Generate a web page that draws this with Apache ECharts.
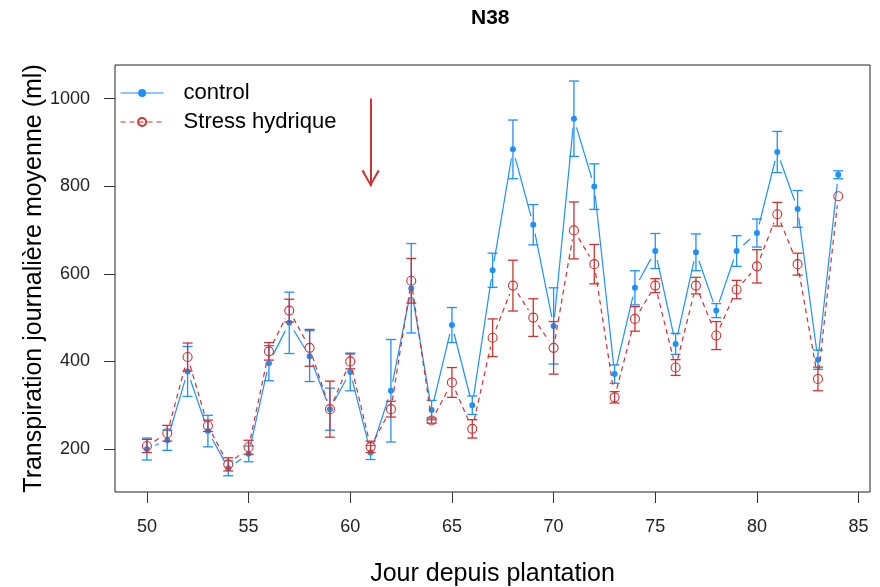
<!DOCTYPE html>
<html>
<head>
<meta charset="utf-8">
<script src="https://cdn.jsdelivr.net/npm/echarts@6/dist/echarts.min.js"></script>
<style>html,body{margin:0;padding:0;background:#fff;}#c{width:880px;height:587px;}</style>
</head>
<body>
<div id="c"></div>
<script>
const days = [50,51,52,53,54,55,56,57,58,59,60,61,62,63,64,65,66,67,68,69,70,71,72,73,74,75,76,77,78,79,80,81,82,83,84];
const controlMean = [200,220,377,241,156,189,396,488,412,291,376,192,333,567,289,483,300,608,884,712,481,954,799,371,568,652,440,649,516,652,693,878,748,404,826];
const controlSE   = [25,23,57,36,17,18,40,70,58,48,43,16,117,102,22,40,21,39,67,46,87,86,52,21,39,40,24,42,16,35,32,47,42,22,9];
const stressMean  = [207,236,410,253,165,204,423,516,431,291,400,205,291,584,265,352,246,454,573,500,431,699,622,318,497,573,386,573,459,564,617,736,622,360,777];
const stressSE    = [15,18,32,13,15,16,20,26,42,64,17,13,18,51,6,34,21,43,58,43,60,65,45,13,28,16,18,19,32,21,38,27,25,27,0];
const xTicks = [50,55,60,65,70,75,80,85];
const yTicks = [200,400,600,800,1000];
const arrowDay = 61, arrowFrom = 1000, arrowTo = 800;

const BLUE = '#1E90FF', RED = '#CD3333';
const FONT = '"Liberation Sans", Arial, sans-serif';

function segData(means){
  const out = [];
  for (let i = 0; i < days.length - 1; i++) out.push([days[i], means[i], days[i+1], means[i+1]]);
  return out;
}
function barData(means, se){
  return days.map((d,i)=>[d, means[i]-se[i], means[i]+se[i]]);
}
function gapLine(color, dash){
  return function(params, api){
    const p1 = api.coord([api.value(0), api.value(1)]);
    const p2 = api.coord([api.value(2), api.value(3)]);
    const dx = p2[0]-p1[0], dy = p2[1]-p1[1];
    const L = Math.hypot(dx, dy), g = 9;
    if (L <= 2*g) return null;
    const ux = dx/L, uy = dy/L;
    return {type:'line', shape:{x1:p1[0]+ux*g, y1:p1[1]+uy*g, x2:p2[0]-ux*g, y2:p2[1]-uy*g},
      style:{stroke:color, lineWidth:1.2, lineDash:dash, fill:null}};
  };
}
function errBar(color){
  return function(params, api){
    const x = api.value(0), lo = api.value(1), hi = api.value(2);
    if (hi - lo <= 0) return null;
    const a = api.coord([x, lo]), b = api.coord([x, hi]);
    const w = 5, st = {stroke:color, lineWidth:1.3};
    return {type:'group', children:[
      {type:'line', shape:{x1:a[0], y1:a[1], x2:b[0], y2:b[1]}, style:st},
      {type:'line', shape:{x1:a[0]-w, y1:a[1], x2:a[0]+w, y2:a[1]}, style:st},
      {type:'line', shape:{x1:b[0]-w, y1:b[1], x2:b[0]+w, y2:b[1]}, style:st}
    ]};
  };
}

const chart = echarts.init(document.getElementById('c'), null, {renderer:'canvas'});
chart.setOption({
  animation:false,
  backgroundColor:'#fff',
  title:{text:'N38', left:471, top:8, padding:0, textStyle:{fontFamily:FONT, fontSize:21, fontWeight:'bold', color:'#000'}},
  grid:{left:115, right:10, top:65, bottom:95, show:true, borderColor:'#222', borderWidth:1, backgroundColor:'transparent', containLabel:false, outerBoundsMode:'none'},
  legend:{
    orient:'vertical', left:120, top:82, padding:0, itemGap:7, itemWidth:43, itemHeight:10,
    textStyle:{fontFamily:FONT, fontSize:22, color:'#000', lineHeight:22, padding:[0,0,0,15]},
    data:[
      {name:'control', lineStyle:{color:BLUE, width:1.2, type:'solid', opacity:1}},
      {name:'Stress hydrique', lineStyle:{color:RED, width:1.2, type:[5,4], opacity:1}}
    ]
  },
  xAxis:{
    type:'value', min:48.43, max:85.56,
    name:'Jour depuis plantation', nameLocation:'middle', nameGap:70, nameMoveOverlap:false,
    nameTextStyle:{fontFamily:FONT, fontSize:25, color:'#000'},
    axisLine:{show:false},
    axisTick:{show:true, length:11, lineStyle:{color:'#333'}, customValues:xTicks},
    axisLabel:{fontFamily:FONT, fontSize:18, color:'#222', margin:26, customValues:xTicks, formatter:(v)=>String(v)},
    splitLine:{show:false}
  },
  yAxis:{
    type:'value', min:101.9, max:1076.6,
    name:'Transpiration journalière moyenne (ml)', nameLocation:'middle', nameGap:68, nameMoveOverlap:false,
    nameTextStyle:{fontFamily:FONT, fontSize:25, color:'#000'},
    axisLine:{show:false},
    axisTick:{show:true, length:11, lineStyle:{color:'#333'}, customValues:yTicks},
    axisLabel:{fontFamily:FONT, fontSize:18, color:'#222', margin:25, customValues:yTicks, formatter:(v)=>String(v)},
    splitLine:{show:false}
  },
  series:[
    {type:'custom', name:'controlLines', renderItem:gapLine(BLUE, null), data:segData(controlMean), silent:true, z:2},
    {type:'custom', name:'controlBars', renderItem:errBar(BLUE), data:barData(controlMean, controlSE), silent:true, z:3},
    {type:'line', name:'control', data:days.map((d,i)=>[d, controlMean[i]]),
      symbol:'circle', symbolSize:6, itemStyle:{color:BLUE},
      lineStyle:{color:BLUE, width:1.2, opacity:0}, z:4, silent:true},
    {type:'custom', name:'stressLines', renderItem:gapLine(RED, [5,4]), data:segData(stressMean), silent:true, z:5},
    {type:'custom', name:'stressBars', renderItem:errBar(RED), data:barData(stressMean, stressSE), silent:true, z:6},
    {type:'line', name:'Stress hydrique', data:days.map((d,i)=>[d, stressMean[i]]),
      symbol:'circle', symbolSize:9, itemStyle:{color:'rgba(0,0,0,0)', borderColor:RED, borderWidth:1.1},
      lineStyle:{color:RED, width:1.2, type:[5,4], opacity:0}, z:7, silent:true,
      markLine:{
        silent:true, animation:false, label:{show:false},
        lineStyle:{color:RED, width:2, type:'solid'},
        symbol:['none','path://M10,0 L20,18 L18,19.5 L10,4 L2,19.5 L0,18 Z'],
        symbolSize:[18,17],
        symbolOffset:[0,[0,8]],
        data:[[{coord:[arrowDay, arrowFrom]},{coord:[arrowDay, arrowTo]}]]
      }
    }
  ]
});
</script>
</body>
</html>
